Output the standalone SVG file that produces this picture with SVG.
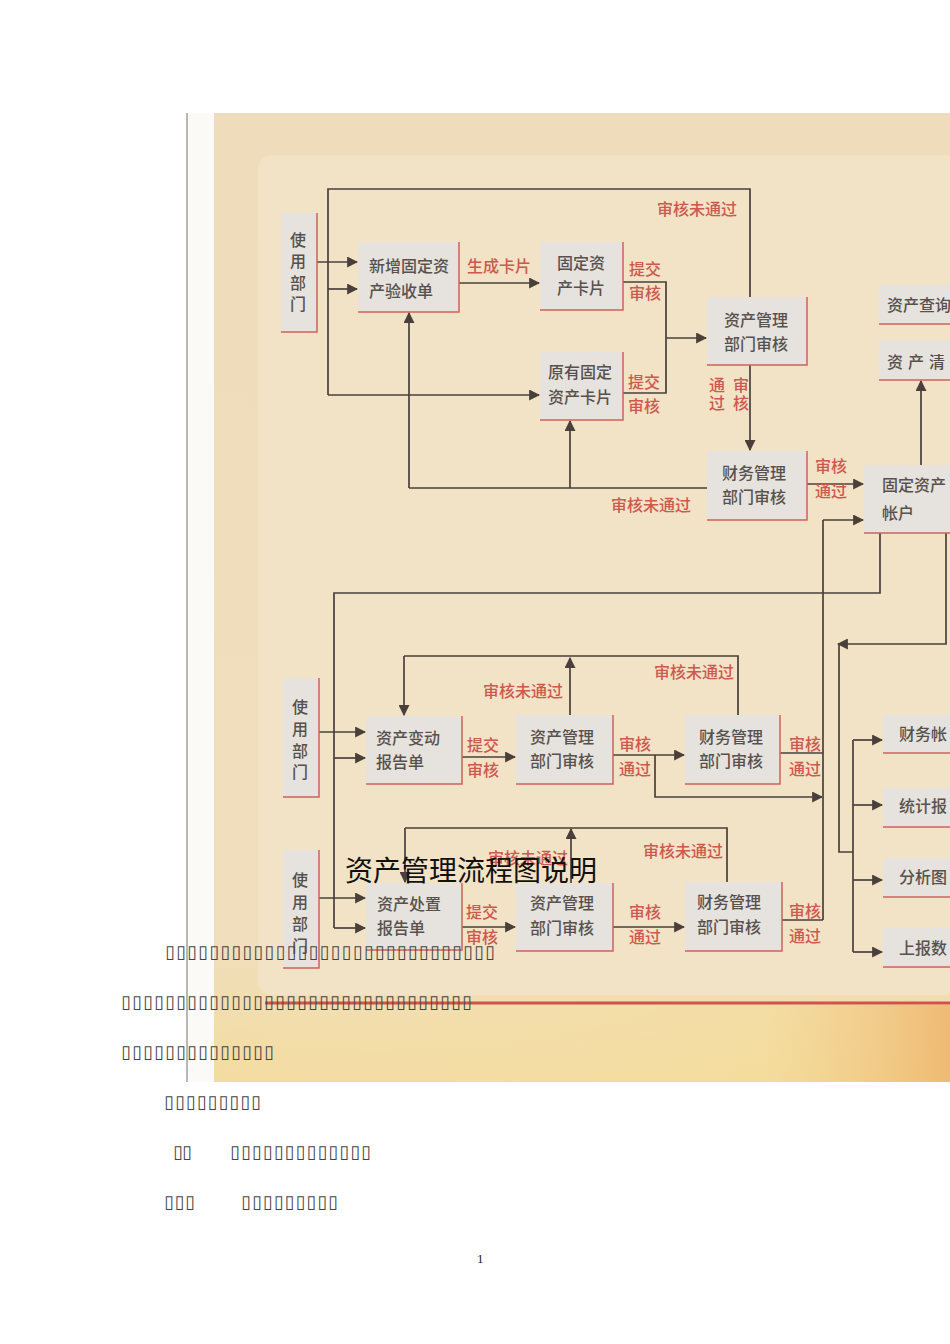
<svg xmlns="http://www.w3.org/2000/svg" width="950" height="1344" viewBox="0 0 950 1344">
<defs>
<marker id="ah" viewBox="0 0 10 10" refX="9" refY="5" markerWidth="11" markerHeight="11" markerUnits="userSpaceOnUse" orient="auto">
<path d="M0,0 L10,5 L0,10 z" fill="#4a403b"/>
</marker>
<linearGradient id="paper" x1="0" y1="0" x2="0" y2="1">
<stop offset="0" stop-color="#efdcbb"/>
<stop offset="0.85" stop-color="#f1debc"/>
<stop offset="1" stop-color="#f3dca0"/>
</linearGradient>
<linearGradient id="glow" x1="0" y1="0" x2="1" y2="0">
<stop offset="0" stop-color="#f5e2b8" stop-opacity="0"/>
<stop offset="0.75" stop-color="#f5dc98" stop-opacity="0.5"/>
<stop offset="1" stop-color="#eeb46a" stop-opacity="0.85"/>
</linearGradient>
<style>
.box{fill:#e6e2dd}
.sh{fill:none;stroke:#d0615a;stroke-width:1.5}
.t{font-family:"Noto Sans CJK SC","Noto Sans",sans-serif;font-size:16px;font-weight:500;fill:#57514e}
.r{font-family:"Noto Sans CJK SC","Noto Sans",sans-serif;font-size:16px;font-weight:500;fill:#cd584e}
.c{fill:none;stroke:#4a403b;stroke-width:1.7}
.a{fill:none;stroke:#4a403b;stroke-width:1.7;marker-end:url(#ah)}
.tofu{font-family:"DejaVu Sans",sans-serif;font-size:18px;fill:#444}
</style>
</defs>
<rect x="0" y="0" width="950" height="1344" fill="#ffffff"/>
<g id="paper-bg">
<rect x="188" y="113" width="762" height="969" fill="#fbfaf6"/>
<rect x="214" y="113" width="736" height="969" fill="url(#paper)"/>
<rect x="258" y="155" width="700" height="840" rx="14" fill="#f2e2c6"/>
<rect x="214" y="1005" width="736" height="77" fill="url(#glow)"/>
<line x1="187" y1="113" x2="187" y2="1082" stroke="#8a8580" stroke-width="1.2"/>
<line x1="265" y1="1003" x2="950" y2="1003" stroke="#d0524b" stroke-width="3"/>
</g>
<g id="connectors">
<path class="a" d="M317,262 H357"/>
<path class="c" d="M750,297 V189 H328 V395"/>
<path class="a" d="M328,289 H357"/>
<path class="a" d="M328,395 H539"/>
<path class="a" d="M459,283 H539"/>
<path class="c" d="M623,282 H666 V393 H623"/>
<path class="a" d="M666,338 H706"/>
<path class="a" d="M750,365 V450"/>
<path class="c" d="M707,488 H409"/>
<path class="a" d="M409,488 V313"/>
<path class="a" d="M570,488 V421"/>
<path class="a" d="M807,484 H863"/>
<path class="a" d="M921,465 V381"/>
<path class="c" d="M823,920 V520"/>
<path class="a" d="M823,520 H863"/>
<path class="c" d="M880,533 V593 H334 V928"/>
<path class="a" d="M334,928 H365"/>
<path class="a" d="M334,758 H365"/>
<path class="a" d="M319,732 H365"/>
<path class="a" d="M319,898 H365"/>
<path class="a" d="M946,533 V644 H838"/>
<path class="c" d="M839,644 V852 H853"/>
<path class="c" d="M853,740 V952"/>
<path class="a" d="M853,740 H882"/>
<path class="a" d="M853,805 H882"/>
<path class="a" d="M853,880 H882"/>
<path class="a" d="M853,952 H882"/>
<path class="a" d="M462,757 H515"/>
<path class="a" d="M613,755 H684"/>
<path class="a" d="M655,755 V797 H822"/>
<path class="a" d="M570,715 V658"/>
<path class="c" d="M738,715 V656 H404"/>
<path class="a" d="M404,656 V715"/>
<path class="c" d="M780,753 H823"/>
<path class="a" d="M462,927 H515"/>
<path class="a" d="M613,927 H684"/>
<path class="a" d="M571,883 V829"/>
<path class="c" d="M727,882 V828 H405"/>
<path class="a" d="M405,828 V882"/>
<path class="c" d="M782,920 H823"/>
</g>
<g id="labels">
<text class="r" x="657" y="215">审核未通过</text>
<text class="r" x="467" y="272">生成卡片</text>
<text class="r" x="629" y="275">提交</text>
<text class="r" x="629" y="299">审核</text>
<text class="r" x="628" y="388">提交</text>
<text class="r" x="628" y="412">审核</text>
<text class="r" x="709" y="391">通</text>
<text class="r" x="709" y="409">过</text>
<text class="r" x="733" y="391">审</text>
<text class="r" x="733" y="409">核</text>
<text class="r" x="611" y="511">审核未通过</text>
<text class="r" x="815" y="472">审核</text>
<text class="r" x="815" y="497">通过</text>
<text class="r" x="483" y="697">审核未通过</text>
<text class="r" x="654" y="678">审核未通过</text>
<text class="r" x="467" y="751">提交</text>
<text class="r" x="467" y="776">审核</text>
<text class="r" x="619" y="750">审核</text>
<text class="r" x="619" y="775">通过</text>
<text class="r" x="789" y="750">审核</text>
<text class="r" x="789" y="775">通过</text>
<text class="r" x="488" y="864">审核未通过</text>
<text class="r" x="643" y="857">审核未通过</text>
<text class="r" x="466" y="918">提交</text>
<text class="r" x="466" y="943">审核</text>
<text class="r" x="629" y="918">审核</text>
<text class="r" x="629" y="943">通过</text>
<text class="r" x="789" y="917">审核</text>
<text class="r" x="789" y="942">通过</text>
</g>
<g id="n-user1"><rect class="box" x="281" y="213" width="36" height="119"/><path class="sh" d="M317,213 V332 H281"/>
<text class="t" x="290" y="246">使</text><text class="t" x="290" y="267">用</text><text class="t" x="290" y="289">部</text><text class="t" x="290" y="310">门</text></g>
<g id="n-new"><rect class="box" x="358" y="242" width="101" height="70"/><path class="sh" d="M459,242 V312 H358"/>
<text class="t" x="369" y="272">新增固定资</text><text class="t" x="369" y="297">产验收单</text></g>
<g id="n-card"><rect class="box" x="540" y="242" width="83" height="68"/><path class="sh" d="M623,242 V310 H540"/>
<text class="t" x="557" y="269">固定资</text><text class="t" x="557" y="294">产卡片</text></g>
<g id="n-oldcard"><rect class="box" x="540" y="352" width="83" height="68"/><path class="sh" d="M623,352 V420 H540"/>
<text class="t" x="548" y="378">原有固定</text><text class="t" x="548" y="403">资产卡片</text></g>
<g id="n-am1"><rect class="box" x="707" y="297" width="100" height="68"/><path class="sh" d="M807,297 V365 H707"/>
<text class="t" x="724" y="326">资产管理</text><text class="t" x="724" y="350">部门审核</text></g>
<g id="n-fm1"><rect class="box" x="707" y="451" width="100" height="69"/><path class="sh" d="M807,451 V520 H707"/>
<text class="t" x="722" y="479">财务管理</text><text class="t" x="722" y="503">部门审核</text></g>
<g id="n-acct"><rect class="box" x="864" y="465" width="90" height="68"/><path class="sh" d="M864,533 H954"/>
<text class="t" x="882" y="491">固定资产</text><text class="t" x="882" y="519">帐户</text></g>
<g id="n-query"><rect class="box" x="879" y="285" width="75" height="39"/><path class="sh" d="M879,324 H954"/>
<text class="t" x="887" y="311">资产查询</text></g>
<g id="n-clear"><rect class="box" x="879" y="340" width="75" height="40"/><path class="sh" d="M879,380 H954"/>
<text class="t" x="887" y="368" letter-spacing="5">资产清</text></g>
<g id="n-user2"><rect class="box" x="283" y="678" width="36" height="119"/><path class="sh" d="M319,678 V797 H283"/>
<text class="t" x="292" y="713">使</text><text class="t" x="292" y="735">用</text><text class="t" x="292" y="757">部</text><text class="t" x="292" y="778">门</text></g>
<g id="n-change"><rect class="box" x="366" y="716" width="96" height="68"/><path class="sh" d="M462,716 V784 H366"/>
<text class="t" x="376" y="744">资产变动</text><text class="t" x="376" y="768">报告单</text></g>
<g id="n-am2"><rect class="box" x="516" y="715" width="97" height="69"/><path class="sh" d="M613,715 V784 H516"/>
<text class="t" x="530" y="743">资产管理</text><text class="t" x="530" y="767">部门审核</text></g>
<g id="n-fm2"><rect class="box" x="685" y="715" width="95" height="69"/><path class="sh" d="M780,715 V784 H685"/>
<text class="t" x="699" y="743">财务管理</text><text class="t" x="699" y="767">部门审核</text></g>
<g id="n-user3"><rect class="box" x="283" y="850" width="36" height="118"/><path class="sh" d="M319,850 V968 H283"/>
<text class="t" x="292" y="886">使</text><text class="t" x="292" y="908">用</text><text class="t" x="292" y="930">部</text><text class="t" x="292" y="952">门</text></g>
<g id="n-dispose"><rect class="box" x="366" y="883" width="96" height="67"/><path class="sh" d="M462,883 V950 H366"/>
<text class="t" x="377" y="910">资产处置</text><text class="t" x="377" y="934">报告单</text></g>
<g id="n-am3"><rect class="box" x="516" y="883" width="97" height="68"/><path class="sh" d="M613,883 V951 H516"/>
<text class="t" x="530" y="909">资产管理</text><text class="t" x="530" y="934">部门审核</text></g>
<g id="n-fm3"><rect class="box" x="685" y="882" width="97" height="69"/><path class="sh" d="M782,882 V951 H685"/>
<text class="t" x="697" y="908">财务管理</text><text class="t" x="697" y="933">部门审核</text></g>
<g id="n-out1"><rect class="box" x="883" y="715" width="71" height="38"/><path class="sh" d="M883,753 H954"/><text class="t" x="899" y="740">财务帐</text></g>
<g id="n-out2"><rect class="box" x="883" y="788" width="71" height="39"/><path class="sh" d="M883,827 H954"/><text class="t" x="899" y="812">统计报</text></g>
<g id="n-out3"><rect class="box" x="883" y="858" width="71" height="39"/><path class="sh" d="M883,897 H954"/><text class="t" x="899" y="883">分析图</text></g>
<g id="n-out4"><rect class="box" x="883" y="928" width="71" height="39"/><path class="sh" d="M883,967 H954"/><text class="t" x="899" y="954">上报数</text></g>
<g id="doc-text">
<text x="345" y="881" font-family="'Noto Sans CJK SC','Noto Sans',sans-serif" font-size="28" fill="#111">资产管理流程图说明</text>
<text class="tofu" x="165" y="958" textLength="330" lengthAdjust="spacing">▯▯▯▯▯▯▯▯▯▯▯▯▯▯▯▯▯▯▯▯▯▯▯▯▯▯▯▯▯▯</text>
<text class="tofu" x="121" y="1008" textLength="351" lengthAdjust="spacing">▯▯▯▯▯▯▯▯▯▯▯▯▯▯▯▯▯▯▯▯▯▯▯▯▯▯▯▯▯▯▯▯</text>
<text class="tofu" x="121" y="1058" textLength="153" lengthAdjust="spacing">▯▯▯▯▯▯▯▯▯▯▯▯▯▯</text>
<text class="tofu" x="164" y="1108" textLength="97" lengthAdjust="spacing">▯▯▯▯▯▯▯▯▯</text>
<text class="tofu" x="173" y="1158" textLength="19" lengthAdjust="spacing">▯▯</text>
<text class="tofu" x="230" y="1158" textLength="141" lengthAdjust="spacing">▯▯▯▯▯▯▯▯▯▯▯▯▯</text>
<text class="tofu" x="164" y="1208" textLength="31" lengthAdjust="spacing">▯▯▯</text>
<text class="tofu" x="241" y="1208" textLength="97" lengthAdjust="spacing">▯▯▯▯▯▯▯▯▯</text>
<text x="477" y="1263" font-family="'Liberation Serif',serif" font-size="13" fill="#222">1</text>
</g>
</svg>
